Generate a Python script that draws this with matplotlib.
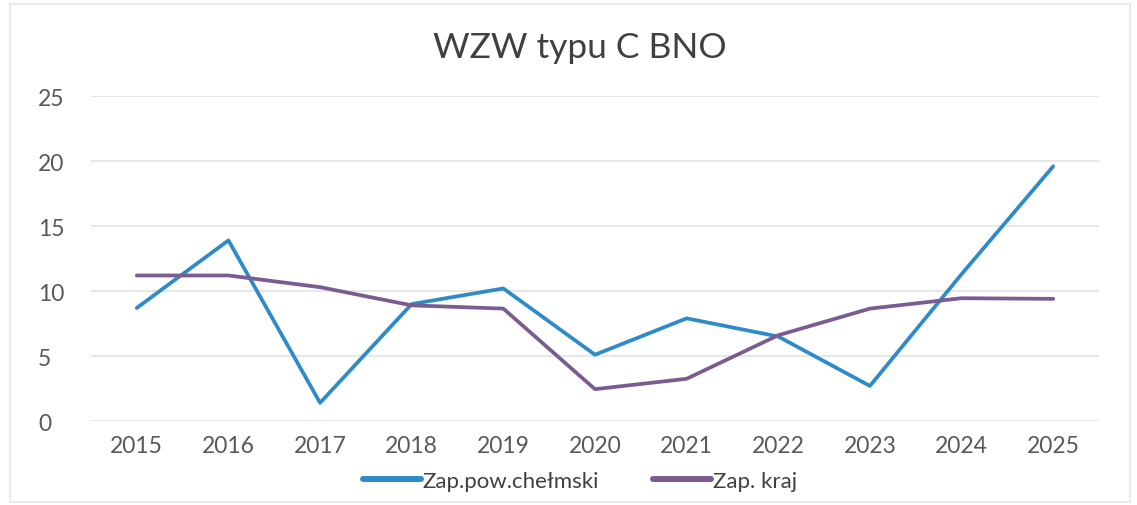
import matplotlib
matplotlib.use("Agg")
import matplotlib.pyplot as plt
from matplotlib.patches import Rectangle

years = ["2015", "2016", "2017", "2018", "2019", "2020", "2021", "2022", "2023", "2024", "2025"]
chelmski = [8.7, 13.9, 1.4, 9.0, 10.2, 5.1, 7.9, 6.5, 2.7, 11.3, 19.6]
kraj = [11.2, 11.2, 10.3, 8.9, 8.65, 2.45, 3.25, 6.6, 8.65, 9.45, 9.4]
series_names = ["Zap.pow.chełmski", "Zap. kraj"]
yticks = [0, 5, 10, 15, 20, 25]

plt.rcParams['font.family'] = ['Lato', 'DejaVu Sans']

fig = plt.figure(figsize=(11.37, 5.06), dpi=100)
ax = fig.add_axes([0.080, 0.166, 0.8866, 0.642])

x = list(range(len(years)))
ax.plot(x, chelmski, color="#2E8BC9", lw=2.7, label=series_names[0], solid_capstyle="round", zorder=3)
ax.plot(x, kraj, color="#7A5C91", lw=2.7, label=series_names[1], solid_capstyle="round", zorder=3)

ax.set_xlim(-0.5, len(years) - 0.5)
ax.set_ylim(0, 25)
ax.set_xticks(x)
ax.set_xticklabels(years)
ax.set_yticks(yticks)
ax.set_yticklabels([str(v) for v in yticks])
ax.tick_params(axis="both", length=0, labelsize=16.5, colors="#595959")
ax.tick_params(axis="x", pad=10)
ax.tick_params(axis="y", pad=38)
for lab in ax.get_yticklabels():
    lab.set_horizontalalignment("left")
ax.grid(axis="y", color="#E3E3E3", lw=1.2)
ax.set_axisbelow(True)
for s in ax.spines.values():
    s.set_visible(False)

fig.text(0.51, 0.905, "WZW typu C BNO", ha="center", va="center", fontsize=25.5, color="#404040")

leg = fig.legend(loc="center", bbox_to_anchor=(0.51, 0.047), ncol=2, frameon=False,
                 fontsize=16, handlelength=2.6, handletextpad=0.1, columnspacing=2.4)
for t in leg.get_texts():
    t.set_color("#404040")
for h in leg.get_lines():
    h.set_linewidth(4.3)

fig.patches.append(Rectangle((0.009, 0.005), 0.985, 0.985, transform=fig.transFigure,
                             fill=False, edgecolor="#E6E6E6", lw=1.2))

fig.savefig("out.png", dpi=100)
